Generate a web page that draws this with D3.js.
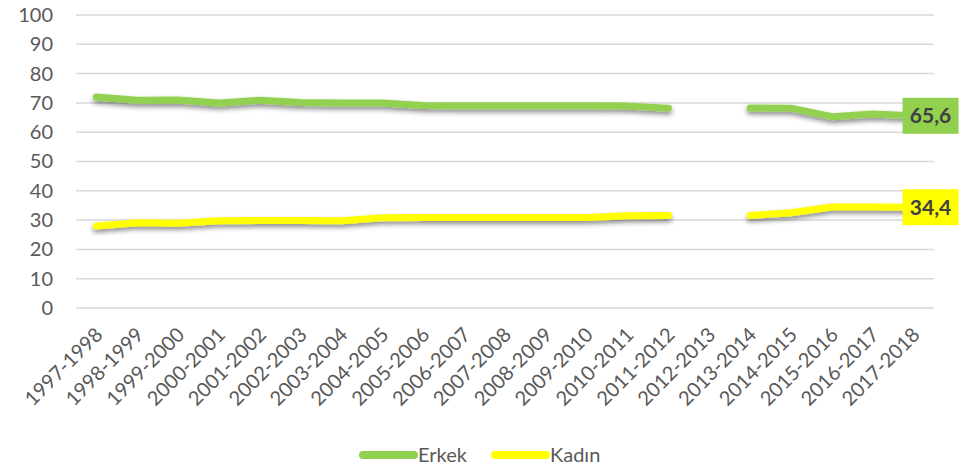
<!DOCTYPE html>
<html>
<head>
<meta charset="utf-8">
<script src="https://cdn.jsdelivr.net/npm/d3@7"></script>
<style>
  body { margin: 0; background: #fff; }
  svg { display: block; font-family: Lato, "Open Sans", sans-serif; }
</style>
</head>
<body>
<script>
/* data */
const years = ['1997-1998','1998-1999','1999-2000','2000-2001','2001-2002','2002-2003','2003-2004',
  '2004-2005','2005-2006','2006-2007','2007-2008','2008-2009','2009-2010','2010-2011','2011-2012',
  '2012-2013','2013-2014','2014-2015','2015-2016','2016-2017','2017-2018'];
const erkek = [72.0, 70.9, 71.0, 70.0, 70.9, 70.1, 70.0, 70.0, 69.1, 69.0, 69.0, 69.0, 69.0, 68.9, 68.2,
  null, 68.3, 68.2, 65.3, 66.2, 65.6];
const kadin = [28.0, 29.1, 28.9, 29.8, 29.9, 29.9, 29.8, 30.8, 30.9, 30.9, 30.9, 30.9, 30.9, 31.5, 31.6,
  null, 31.6, 32.5, 34.5, 34.5, 34.4];
const yTicks = [0, 10, 20, 30, 40, 50, 60, 70, 80, 90, 100];
const seriesNames = ['Erkek', 'Kadın'];
const lastLabels = ['65,6', '34,4'];

/* canvas */
const width = 976, height = 467;
const padding = { top: 15, bottom: 160, left: 76, right: 42 };
const colors = ['#92D050', '#FFFF00'];

const svg = d3.select('body').append('svg').attr('width', width).attr('height', height);

/* shadow */
const defs = svg.append('defs');
defs.append('filter').attr('id', 'shadow')
  .attr('x', '-10%').attr('y', '-50%').attr('width', '120%').attr('height', '200%')
  .append('feDropShadow')
  .attr('dx', 0).attr('dy', 3).attr('stdDeviation', 2.5)
  .attr('flood-color', '#000').attr('flood-opacity', 0.45);

/* scales */
const xScale = d3.scalePoint().domain(years)
  .range([padding.left, width - padding.right]).padding(0.5);
const yScale = d3.scaleLinear().domain([0, 100])
  .range([height - padding.bottom + 1, padding.top]);

/* gridlines */
svg.append('g').selectAll('line').data(yTicks).enter().append('line')
  .attr('x1', padding.left).attr('x2', width - padding.right)
  .attr('y1', d => yScale(d)).attr('y2', d => yScale(d))
  .attr('stroke', '#D9D9D9').attr('stroke-width', 1.5);

/* y axis */
const yAxis = svg.append('g')
  .attr('transform', 'translate(' + (padding.left - 23) + ',0)')
  .call(d3.axisLeft(yScale).tickValues(yTicks).tickSize(0).tickPadding(0));
yAxis.select('.domain').remove();
yAxis.selectAll('text').attr('font-size', 20).attr('fill', '#595959')
  .attr('font-family', 'Lato, sans-serif');

/* x axis */
const xAxis = svg.append('g')
  .attr('transform', 'translate(0,' + (height - padding.bottom + 1) + ')')
  .call(d3.axisBottom(xScale).tickSize(0).tickPadding(0));
xAxis.select('.domain').remove();
xAxis.selectAll('text')
  .attr('font-size', 20).attr('fill', '#595959').attr('font-family', 'Lato, sans-serif')
  .attr('text-anchor', 'end').attr('dy', 0).attr('y', 0)
  .attr('transform', 'translate(7,28) rotate(-45)');

/* lines */
const allSeries = [erkek, kadin];
const line = d3.line()
  .defined(d => d != null)
  .x((d, i) => xScale(years[i]))
  .y(d => yScale(d));

svg.append('g').selectAll('path').data(allSeries).enter().append('path')
  .attr('d', line)
  .attr('fill', 'none')
  .attr('stroke', (d, i) => colors[i])
  .attr('stroke-width', 7)
  .attr('stroke-linecap', 'round')
  .attr('stroke-linejoin', 'round')
  .attr('filter', 'url(#shadow)');

/* last value labels */
const lab = svg.append('g').selectAll('g').data(allSeries).enter().append('g')
  .attr('transform', d => 'translate(' + (xScale(years[years.length - 1]) + 17) + ',' + yScale(d[d.length - 1]) + ')');
lab.append('rect')
  .attr('x', -28).attr('y', -18).attr('width', 56).attr('height', 36)
  .attr('fill', (d, i) => colors[i]);
lab.append('text')
  .attr('text-anchor', 'middle').attr('dy', '0.35em')
  .attr('font-size', 21).attr('font-weight', 'bold').attr('fill', '#404040')
  .text((d, i) => lastLabels[i]);

/* legend */
const legend = svg.append('g').selectAll('g').data(seriesNames).enter().append('g')
  .attr('transform', (d, i) => 'translate(' + (363 + i * 132) + ',455)');
legend.append('line')
  .attr('x1', 0).attr('x2', 51)
  .attr('stroke', (d, i) => colors[i]).attr('stroke-width', 8).attr('stroke-linecap', 'round');
legend.append('text')
  .attr('x', 55).attr('dy', '0.35em')
  .attr('font-size', 20).attr('fill', '#595959')
  .text(d => d);
</script>
</body>
</html>
